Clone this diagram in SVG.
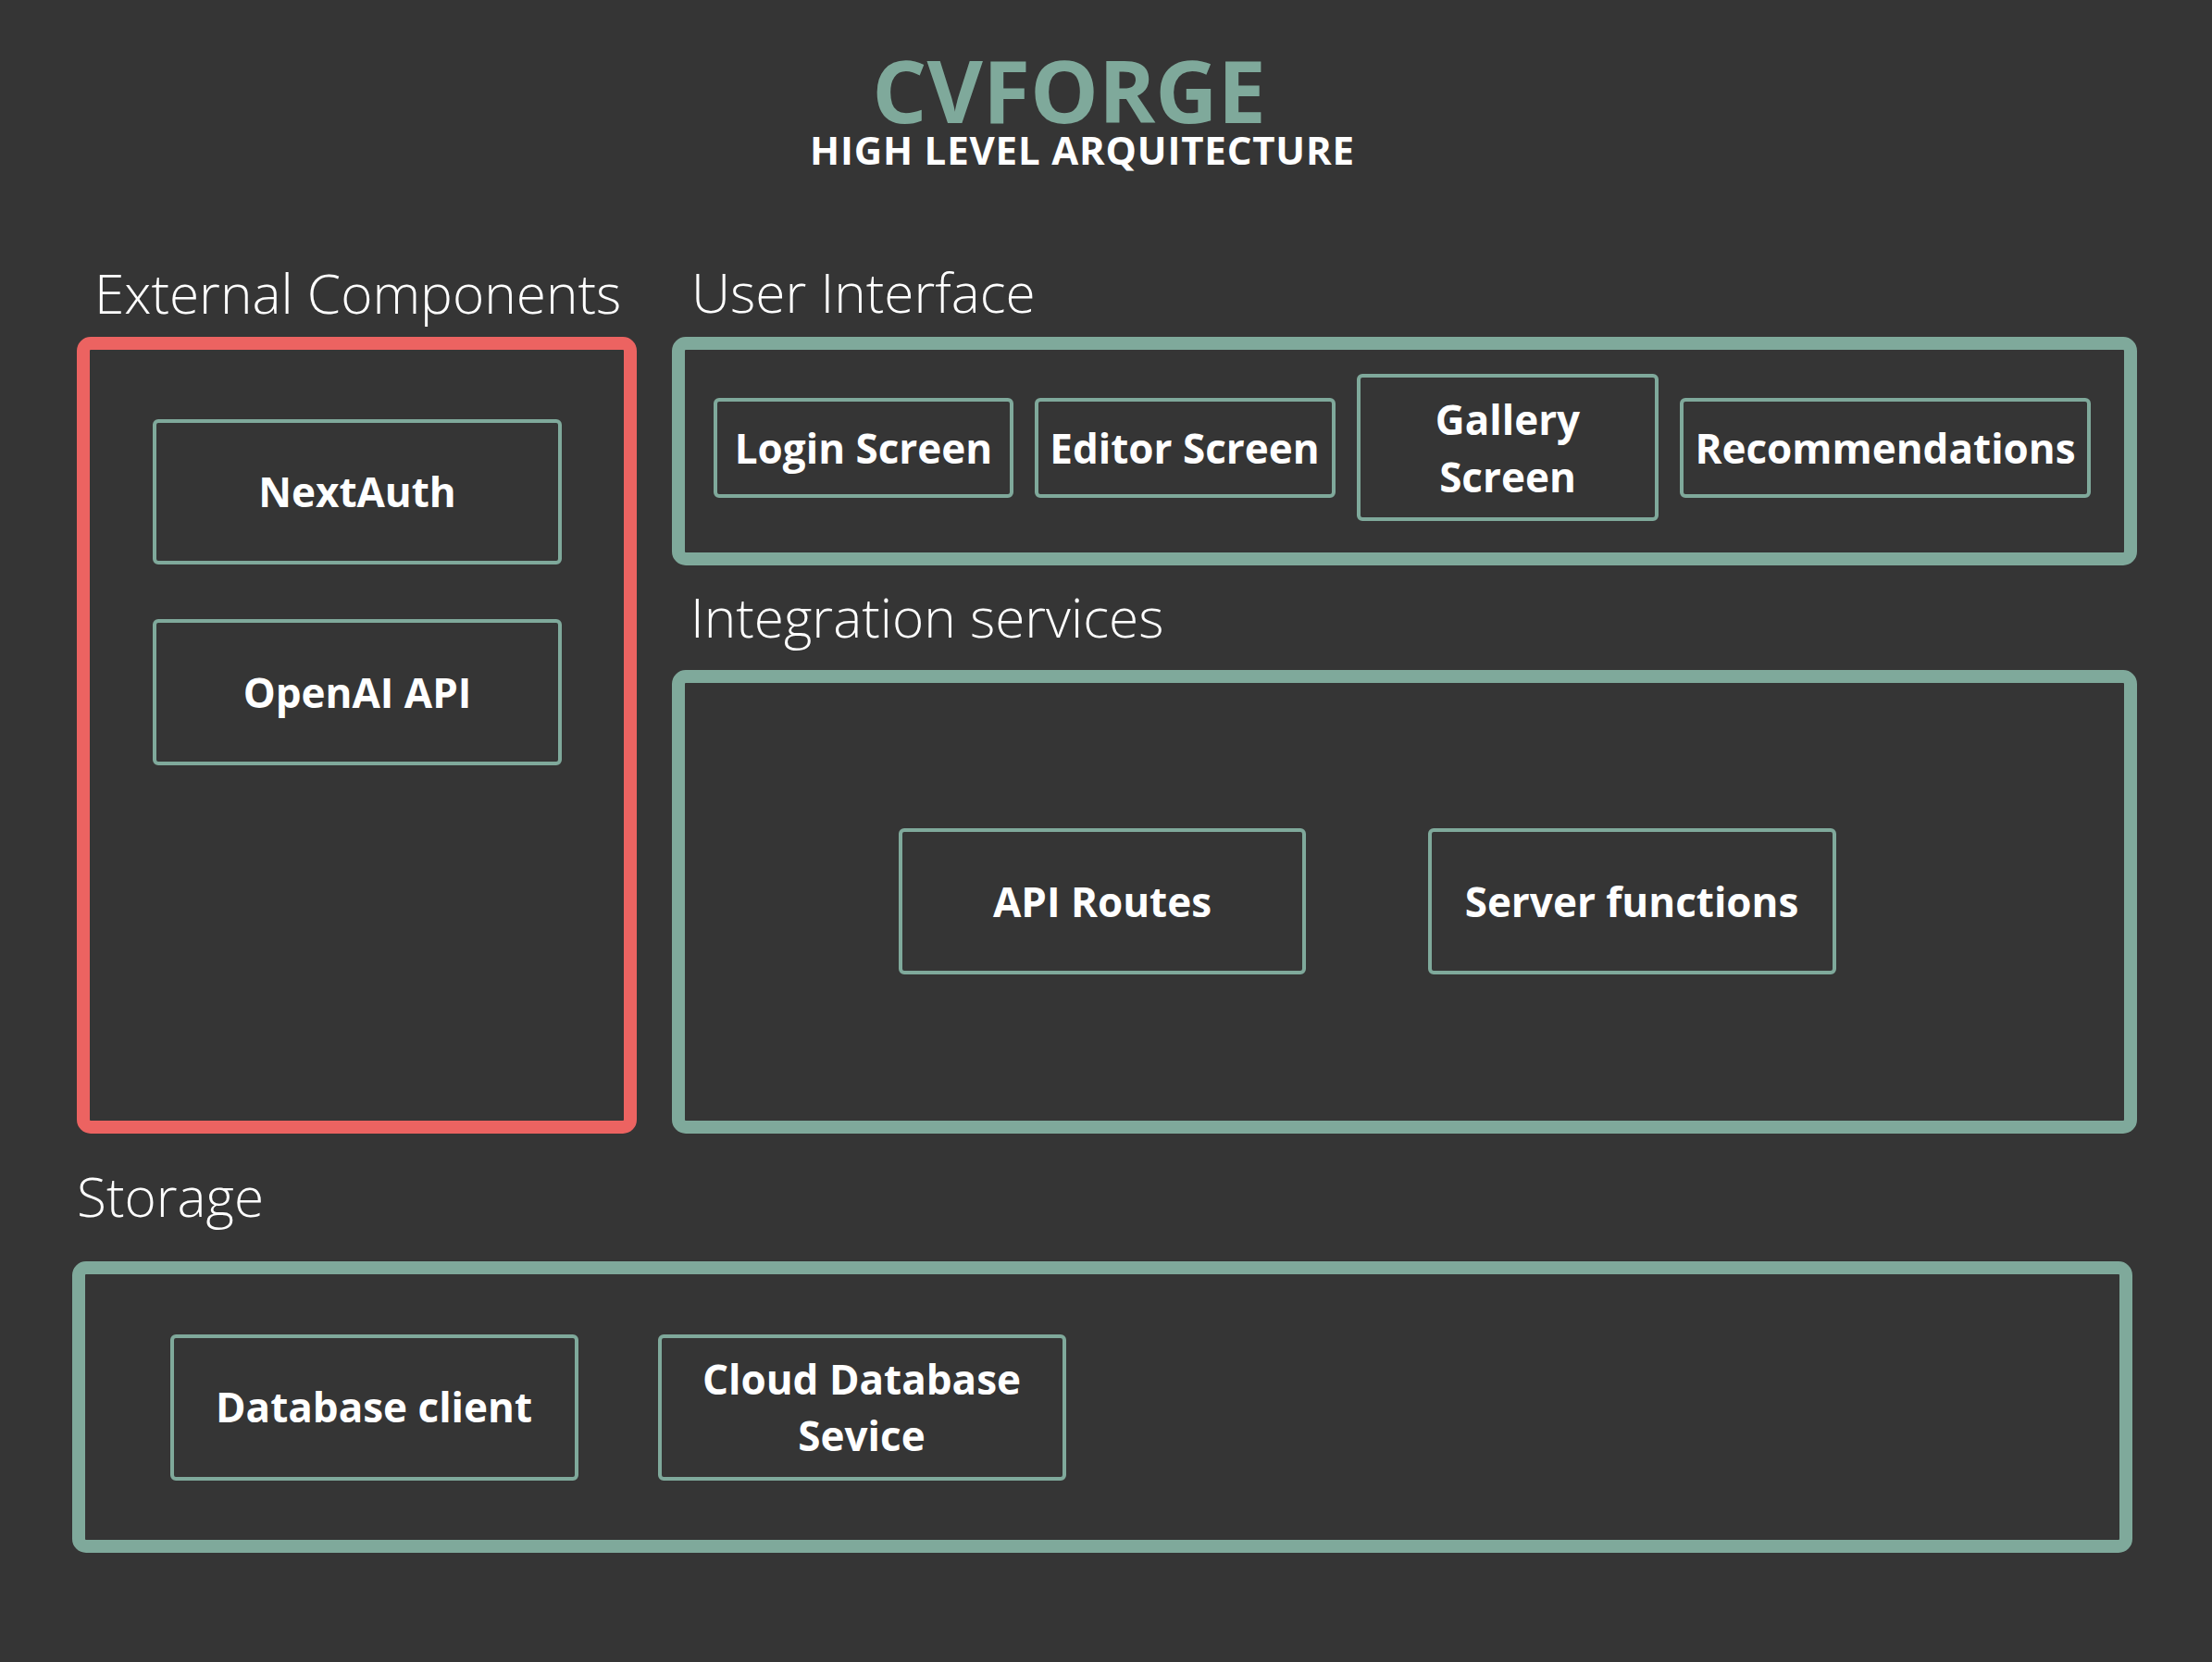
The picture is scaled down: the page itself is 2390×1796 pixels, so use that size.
<svg xmlns="http://www.w3.org/2000/svg" width="2390" height="1796" viewBox="0 0 2390 1796">
<style>
.bg{fill:#353535}
.group{fill:none;stroke:#7FA99B;stroke-width:14}
.group.red{stroke:#EC6361}
.node{fill:#353535;stroke:#7FA99B;stroke-width:4}
.lbl{font-family:"Open Sans","Liberation Sans",sans-serif;font-weight:700;font-size:44px;fill:#FFFFFF;text-anchor:middle}
.sec{font-family:"Open Sans","Liberation Sans",sans-serif;font-weight:300;font-size:58.5px;fill:#FFFFFF}
</style>
<rect class="bg" x="0" y="0" width="2390" height="1796"/>
<g id="title">
<text x="1155" y="133" font-family="Open Sans, Liberation Sans, sans-serif" font-weight="700" font-size="93" fill="#7FA99B" text-anchor="middle">CVFORGE</text>
<text x="875" y="178" font-family="Open Sans, Liberation Sans, sans-serif" font-weight="700" font-size="42" fill="#FFFFFF" textLength="588" lengthAdjust="spacing">HIGH LEVEL ARQUITECTURE</text>
</g>
<g id="external-components">
<text class="sec" x="102" y="339">External Components</text>
<rect class="group red" x="90" y="371" width="591" height="847" rx="8"/>
</g>
<g id="user-interface">
<text class="sec" x="747" y="338">User Interface</text>
<rect class="group" x="733" y="371" width="1569" height="233" rx="8"/>
</g>
<g id="integration-services">
<text class="sec" x="746" y="689">Integration services</text>
<rect class="group" x="733" y="731" width="1569" height="487" rx="8"/>
</g>
<g id="storage">
<text class="sec" x="83" y="1315">Storage</text>
<rect class="group" x="85" y="1370" width="2212" height="301" rx="8"/>
</g>
<g id="nextauth"><rect class="node" x="167" y="455" width="438" height="153" rx="4"/><text class="lbl" x="386" y="548">NextAuth</text></g>
<g id="openai-api"><rect class="node" x="167" y="671" width="438" height="154" rx="4"/><text class="lbl" x="386" y="765">OpenAI API</text></g>
<g id="login-screen"><rect class="node" x="773" y="432" width="320" height="104" rx="4"/><text class="lbl" x="933" y="501">Login Screen</text></g>
<g id="editor-screen"><rect class="node" x="1120" y="432" width="321" height="104" rx="4"/><text class="lbl" x="1280" y="501">Editor Screen</text></g>
<g id="gallery-screen"><rect class="node" x="1468" y="406" width="322" height="155" rx="4"/><text class="lbl" x="1629" y="470">Gallery</text><text class="lbl" x="1629" y="532">Screen</text></g>
<g id="recommendations"><rect class="node" x="1817" y="432" width="440" height="104" rx="4"/><text class="lbl" x="2037" y="501">Recommendations</text></g>
<g id="api-routes"><rect class="node" x="973" y="897" width="436" height="154" rx="4"/><text class="lbl" x="1191" y="991">API Routes</text></g>
<g id="server-functions"><rect class="node" x="1545" y="897" width="437" height="154" rx="4"/><text class="lbl" x="1763" y="991">Server functions</text></g>
<g id="database-client"><rect class="node" x="186" y="1444" width="437" height="154" rx="4"/><text class="lbl" x="404" y="1537">Database client</text></g>
<g id="cloud-database-service"><rect class="node" x="713" y="1444" width="437" height="154" rx="4"/><text class="lbl" x="931" y="1507">Cloud Database</text><text class="lbl" x="931" y="1568">Sevice</text></g>
<g id="connectors"></g>
</svg>
